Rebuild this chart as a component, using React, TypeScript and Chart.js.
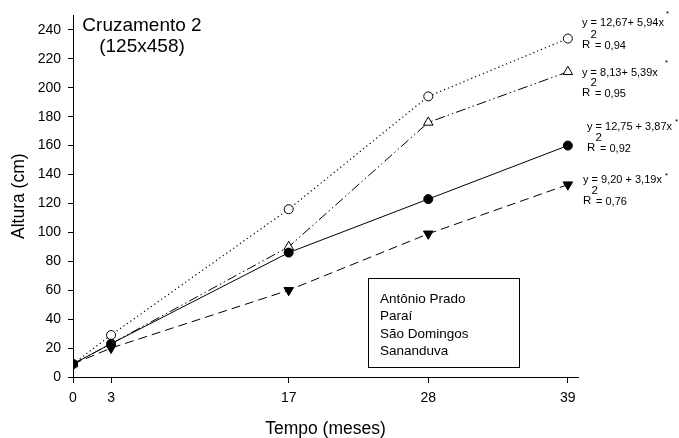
import React, { useEffect, useRef } from 'react';
import { Chart, registerables } from 'chart.js';

Chart.register(...registerables);

// ---- data ----
const months = [0, 3, 17, 28, 39];
const antonioPrado = [9, 23, 86, 123, 160];
const parai = [9, 29, 116, 194, 234];
const saoDomingos = [9, 20, 60, 99, 133];
const sananduva = [9, 23, 90, 176, 211];
const seriesNames = ['Antônio Prado', 'Paraí', 'São Domingos', 'Sananduva'];
const yTickValues = [0, 20, 40, 60, 80, 100, 120, 140, 160, 180, 200, 220, 240];
const titleLines = ['Cruzamento 2', '(125x458)'];
const xTitle = 'Tempo (meses)';
const yTitle = 'Altura (cm)';
const equationTexts = ['y = 12,67+ 5,94x', 'y = 8,13+ 5,39x', 'y = 12,75 + 3,87x', 'y = 9,20 + 3,19x'];
const r2Texts = ['= 0,94', '= 0,95', '= 0,92', '= 0,76'];

const FONT = '"Liberation Sans", Arial, Helvetica, sans-serif';

// layout of equation annotations (x start, baseline of equation line)
const eqLayout = [
  { x: 582, y: 26, ax: 668, ay: 12, rx: 582, ry: 48 },
  { x: 582, y: 76, ax: 667, ay: 61, rx: 582, ry: 96 },
  { x: 587, y: 130, ax: 677, ay: 120, rx: 587, ry: 151 },
  { x: 583, y: 183, ax: 667, ay: 174, rx: 583, ry: 204 },
];

const annotationsPlugin = {
  id: 'annotations',
  afterDraw(chart: any) {
    const ctx = chart.ctx as CanvasRenderingContext2D;
    ctx.save();
    ctx.fillStyle = '#000';
    ctx.strokeStyle = '#000';
    // title
    ctx.font = `19px ${FONT}`;
    ctx.textAlign = 'center';
    ctx.textBaseline = 'alphabetic';
    ctx.fillText(titleLines[0], 142, 31);
    ctx.fillText(titleLines[1], 142, 52);

    // equations
    ctx.textAlign = 'left';
    equationTexts.forEach((t, i) => {
      const L = eqLayout[i];
      ctx.font = `11px ${FONT}`;
      ctx.fillText(t, L.x, L.y);
      ctx.font = `8px ${FONT}`;
      ctx.fillText('*', L.ax - 2, L.ay + 4);
      ctx.font = `11.5px ${FONT}`;
      ctx.fillText('R', L.rx, L.ry);
      ctx.fillText('2', L.rx + 8.5, L.ry - 10);
      ctx.font = `11px ${FONT}`;
      ctx.fillText(r2Texts[i], L.rx + 13, L.ry + 1);
    });

    // legend box
    ctx.lineWidth = 1;
    ctx.strokeRect(368.5, 278.5, 151, 89);
    ctx.font = `13.5px ${FONT}`;
    seriesNames.forEach((n, i) => {
      ctx.fillText(n, 380, 302.5 + i * 17.5);
    });
    ctx.restore();
  },
};

export default function App() {
  const ref = useRef<HTMLCanvasElement | null>(null);
  useEffect(() => {
    const canvas = ref.current;
    if (!canvas) return;
    const pts = (arr: number[]) => months.map((m, i) => ({ x: m, y: arr[i] }));
    const chart = new Chart(canvas, {
      type: 'scatter',
      data: {
        datasets: [
          {
            label: seriesNames[0],
            data: pts(antonioPrado),
            showLine: true,
            borderColor: '#000',
            borderWidth: 1,
            pointStyle: 'circle',
            pointRadius: 4.5,
            pointBackgroundColor: '#000',
            pointBorderColor: '#000',
            pointBorderWidth: 1,
          },
          {
            label: seriesNames[1],
            data: pts(parai),
            showLine: true,
            borderColor: '#000',
            borderWidth: 1.2,
            borderDash: [1.2, 3],
            pointStyle: 'circle',
            pointRadius: 4.5,
            pointBackgroundColor: '#fff',
            pointBorderColor: '#000',
            pointBorderWidth: 1,
          },
          {
            label: seriesNames[2],
            data: pts(saoDomingos),
            showLine: true,
            borderColor: '#000',
            borderWidth: 1,
            borderDash: [9, 5],
            pointStyle: 'triangle',
            pointRotation: 180,
            pointRadius: 5.5,
            pointBackgroundColor: '#000',
            pointBorderColor: '#000',
            pointBorderWidth: 1,
          },
          {
            label: seriesNames[3],
            data: pts(sananduva),
            showLine: true,
            borderColor: '#000',
            borderWidth: 1,
            borderDash: [10, 3, 1.5, 3, 1.5, 3],
            pointStyle: 'triangle',
            pointRadius: 5.5,
            pointBackgroundColor: '#fff',
            pointBorderColor: '#000',
            pointBorderWidth: 1,
          },
        ],
      },
      options: {
        responsive: false,
        animation: false,
        layout: { padding: { left: 0, top: 12, right: 101, bottom: 0 } },
        plugins: {
          legend: { display: false },
          tooltip: { enabled: false },
        },
        scales: {
          x: {
            type: 'linear',
            min: 0,
            max: 39.8,
            afterBuildTicks: (s: any) => {
              s.ticks = months.map((v) => ({ value: v }));
            },
            afterFit: (s: any) => {
              s.height = 61;
            },
            grid: { drawOnChartArea: false, drawTicks: true, tickLength: 6, color: '#000' },
            border: { color: '#000', width: 1 },
            ticks: {
              color: '#000',
              font: { family: FONT, size: 14 },
              padding: 7,
              maxRotation: 0,
              autoSkip: false,
            },
            title: {
              display: true,
              text: xTitle,
              color: '#000',
              font: { family: FONT, size: 17.5, lineHeight: 1 },
              padding: { top: 0, bottom: 0 },
            },
          },
          y: {
            type: 'linear',
            min: 0,
            max: 250,
            afterBuildTicks: (s: any) => {
              s.ticks = yTickValues.map((v) => ({ value: v }));
            },
            afterFit: (s: any) => {
              s.width = 73;
            },
            grid: { drawOnChartArea: false, drawTicks: true, tickLength: 5, color: '#000' },
            border: { color: '#000', width: 1 },
            ticks: {
              color: '#000',
              font: { family: FONT, size: 14 },
              padding: 7,
              autoSkip: false,
            },
            title: {
              display: true,
              text: yTitle,
              color: '#000',
              font: { family: FONT, size: 17.5 },
              padding: { top: 8.5, bottom: 0 },
            },
          },
        },
      },
      plugins: [annotationsPlugin],
    });
    return () => chart.destroy();
  }, []);

  return (
    <div style={{ position: 'fixed', left: 0, top: 0, width: 679, height: 438, background: '#fff' }}>
      <canvas ref={ref} width={679} height={438} style={{ width: 679, height: 438 }} />
    </div>
  );
}
